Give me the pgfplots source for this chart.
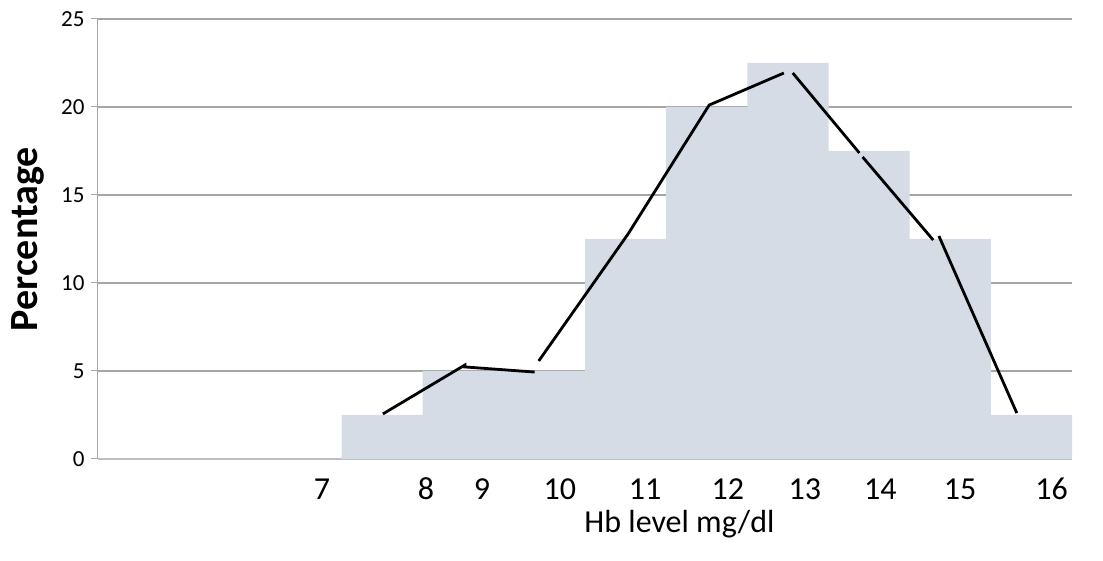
\documentclass[border=0pt]{standalone}
\usepackage{fontspec}
\setmainfont{Carlito}
\usepackage{pgfplots}
\pgfplotsset{compat=1.18}
\definecolor{barcol}{HTML}{D6DCE5}
\definecolor{gridcol}{HTML}{A6A6A6}
\definecolor{axcol}{HTML}{BFBFBF}
\begin{document}
\begin{tikzpicture}
\begin{axis}[
  scale only axis,
  width=974pt, height=440pt,
  xmin=0, xmax=12, ymin=0, ymax=25,
  axis lines=left,
  axis line style={-},
  x axis line style={draw=axcol, line width=2pt},
  y axis line style={draw=gridcol, line width=1pt},
  ytick={0,5,...,25},
  ymajorgrids,
  grid style={draw=gridcol, line width=1.2pt},
  ytick style={draw=gridcol, line width=1pt},
  major tick length=7pt,
  tick align=outside,
  xtick={2.76,4.04,4.73,5.69,6.74,7.76,8.71,9.64,10.62,11.75},
  xticklabels={7,8,9,10,11,12,13,14,15,16},
  xtick style={draw=none},
  /pgf/number format/assume math mode=true,
  yticklabel style={font=\fontsize{23}{26}\selectfont, xshift=-3pt},
  xticklabel style={font=\fontsize{32}{38}\selectfont, anchor=base, yshift=-34pt},
  xlabel={Hb level mg/dl},
  xlabel style={font=\fontsize{32}{38}\selectfont, anchor=base, at={(axis description cs:0.597,0)}, yshift=-74pt},
  ylabel={Percentage},
  ylabel style={font=\fontsize{40}{46}\selectfont\bfseries, anchor=south, at={(axis description cs:0,0.5)}, yshift=50pt},
  clip=false,
]
\addplot[ybar interval, fill=barcol, draw=none] coordinates {
  (3,2.5) (4,5) (5,5) (6,12.5) (7,20) (8,22.5) (9,17.5) (10,12.5) (11,2.5) (12,2.5)
};
\addplot[black, line width=2.8pt, line join=miter] coordinates {(3.51,2.56) (4.52,5.34) (4.52,5.23) (5.38,4.94)};
\addplot[black, line width=2.8pt, line join=miter] coordinates {(5.43,5.57) (6.53,12.78) (7.53,20.11) (8.45,21.93)};
\addplot[black, line width=2.8pt] coordinates {(8.56,21.93) (9.38,17.39)};
\addplot[black, line width=2.8pt] coordinates {(9.42,17.16) (10.29,12.44)};
\addplot[black, line width=2.8pt] coordinates {(10.36,12.67) (11.32,2.61)};
\end{axis}
\path ([shift={(-98pt,-102pt)}]current axis.south west) rectangle ([shift={(31pt,19pt)}]current axis.north east);
\end{tikzpicture}
\end{document}
